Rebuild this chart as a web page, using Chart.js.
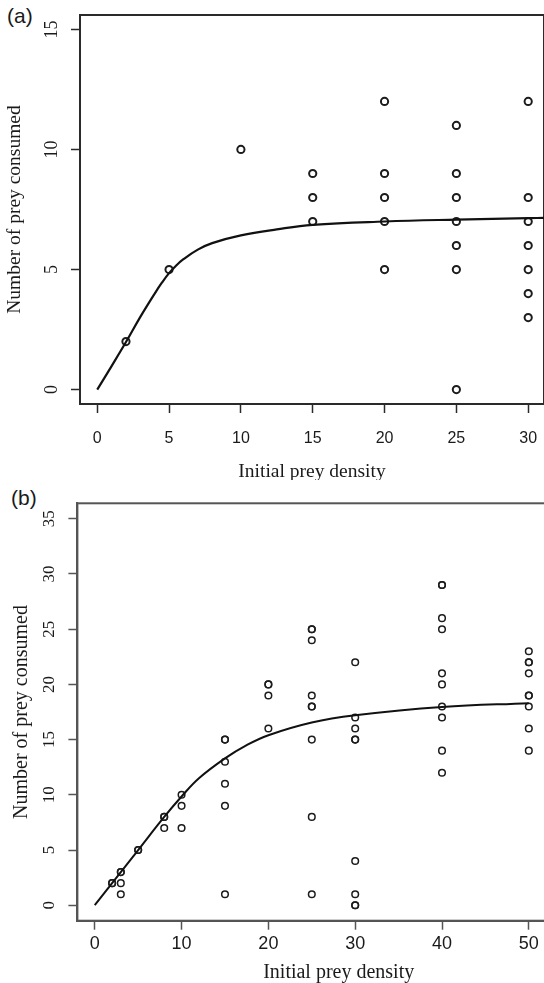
<!DOCTYPE html>
<html><head><meta charset="utf-8">
<script src="https://cdn.jsdelivr.net/npm/chart.js@4/dist/chart.umd.min.js"></script>
<style>
html,body{margin:0;padding:0;background:#fff;overflow:hidden;width:544px;height:983px;position:relative;}
canvas{position:absolute;left:0;}
#ca{top:0;}
#cb{top:480px;}
.lbl{position:absolute;font-family:"Liberation Sans",Arial,sans-serif;font-size:21px;line-height:20px;color:#1a1a1a;}
</style></head><body>
<div class="lbl" style="left:7px;top:6px">(a)</div>
<div class="lbl" style="left:11px;top:488px">(b)</div>
<canvas id="ca" width="544" height="480"></canvas>
<canvas id="cb" width="600" height="503"></canvas>
<script>
// ---------- Panel (a) ----------
const densityA  = [2, 5, 10, 15, 15, 15, 20, 20, 20, 20, 20, 25, 25, 25, 25, 25, 25, 25, 30, 30, 30, 30, 30, 30, 30];
const consumedA = [2, 5, 10,  9,  8,  7, 12,  9,  8,  7,  5, 11,  9,  8,  7,  6,  5,  0, 12,  8,  7,  6,  5,  4,  3];
const fitXA = [0, 1, 2, 3, 4, 4.5, 5, 5.5, 6, 7, 8, 10, 12.5, 15, 20, 25, 30, 31.2];
const fitYA = [0, 0.98, 1.98, 3.03, 4.0, 4.45, 4.85, 5.17, 5.43, 5.83, 6.1, 6.42, 6.67, 6.86, 7.0, 7.08, 7.14, 7.15];
const xTicksA = [0, 5, 10, 15, 20, 25, 30];
const yTicksA = [0, 5, 10, 15];

// ---------- Panel (b) ----------
const densityB  = [2, 2, 3, 3, 3, 3, 5, 5, 8, 8, 8, 10, 10, 10,
  15, 15, 15, 15, 15, 15, 20, 20, 20, 20,
  25, 25, 25, 25, 25, 25, 25, 25, 25,
  30, 30, 30, 30, 30, 30, 30, 30, 30,
  40, 40, 40, 40, 40, 40, 40, 40, 40, 40,
  50, 50, 50, 50, 50, 50, 50, 50, 50];
const consumedB = [2, 2, 3, 3, 2, 1, 5, 5, 8, 8, 7, 10, 9, 7,
  15, 15, 13, 11, 9, 1, 20, 20, 19, 16,
  25, 25, 24, 19, 18, 18, 15, 8, 1,
  22, 17, 16, 15, 15, 4, 1, 0, 0,
  29, 29, 26, 25, 21, 20, 18, 17, 14, 12,
  23, 22, 22, 21, 19, 19, 18, 16, 14];
const fitXB = [0, 2, 5, 8, 10, 12, 15, 17.5, 20, 25, 30, 40, 50];
const fitYB = [0, 2, 5, 8, 9.85, 11.5, 13.3, 14.5, 15.4, 16.55, 17.2, 17.95, 18.3];
const xTicksB = [0, 10, 20, 30, 40, 50];
const yTicksB = [0, 5, 10, 15, 20, 25, 30, 35];

const xTitle = 'Initial prey density';
const yTitle = 'Number of prey consumed';

const boxPlugin = {
  id: 'box',
  beforeDatasetsDraw(chart, args, opts) {
    const {ctx, chartArea: a} = chart;
    ctx.save();
    ctx.strokeStyle = opts.color;
    ctx.lineWidth = opts.width;
    ctx.strokeRect(a.left, a.top, a.right - a.left, a.bottom - a.top);
    ctx.restore();
  }
};

function pts(xs, ys) { return xs.map((x, i) => ({x: x, y: ys[i]})); }

function build(id, p) {
  return new Chart(document.getElementById(id), {
    type: 'scatter',
    data: {
      datasets: [
        {
          data: pts(p.px, p.py),
          pointStyle: 'circle',
          pointRadius: p.r,
          pointBorderWidth: p.bw,
          pointBorderColor: '#1c1c1c',
          pointBackgroundColor: 'rgba(0,0,0,0)',
          showLine: false,
          order: 2
        },
        {
          data: pts(p.fx, p.fy),
          showLine: true,
          pointRadius: 0,
          borderColor: '#111',
          borderWidth: p.lw,
          tension: 0.4,
          fill: false,
          order: 1
        }
      ]
    },
    options: {
      responsive: false,
      animation: false,
      events: [],
      layout: {padding: {left: 0, right: 0, top: p.top, bottom: 0}, autoPadding: false},
      plugins: {legend: {display: false}, tooltip: {enabled: false}, box: {color: p.boxColor, width: 2}},
      scales: {
        x: {
          type: 'linear', position: 'bottom',
          min: p.xmin, max: p.xmax,
          afterBuildTicks: s => { s.ticks = p.xt.map(v => ({value: v})); },
          afterFit: s => { s.height = p.xh; },
          grid: {display: true, drawOnChartArea: false, drawTicks: true, tickLength: 9, tickWidth: 1.5, tickColor: p.boxColor},
          border: {display: true, color: p.boxColor, width: 2},
          ticks: {color: '#1a1a1a', autoSkip: false, maxRotation: 0, padding: 0,
                  font: {family: 'Liberation Sans', size: p.xfs, lineHeight: p.xlh}},
          title: {display: true, text: xTitle, color: '#1a1a1a',
                  font: {family: 'Liberation Serif', size: p.tfs, lineHeight: 1},
                  padding: {top: 0, bottom: p.xtpad}}
        },
        y: {
          type: 'linear', position: 'left',
          min: p.ymin, max: p.ymax,
          afterBuildTicks: s => { s.ticks = p.yt.map(v => ({value: v})); },
          afterFit: s => { s.width = p.yw; },
          grid: {display: true, drawOnChartArea: false, drawTicks: true, tickLength: 9, tickWidth: 1.5, tickColor: p.boxColor},
          border: {display: true, color: p.boxColor, width: 2},
          ticks: {color: '#1a1a1a', autoSkip: false, minRotation: 90, maxRotation: 90, crossAlign: 'center',
                  padding: p.ypad, font: {family: 'Liberation Serif', size: p.yfs, lineHeight: 0.4}},
          title: {display: true, text: yTitle, color: '#1a1a1a',
                  font: {family: 'Liberation Serif', size: p.tfs, lineHeight: 1},
                  padding: {top: p.ytpad, bottom: 0}}
        }
      }
    },
    plugins: [boxPlugin]
  });
}

build('ca', {
  px: densityA, py: consumedA, fx: fitXA, fy: fitYA, xt: xTicksA, yt: yTicksA,
  xmin: -1.2, xmax: 31.1, ymin: -0.6, ymax: 15.6,
  top: 15, xh: 76, yw: 80, r: 3.6, bw: 2, lw: 2.2, boxColor: '#2a2a2a',
  xfs: 16, xlh: 3.25, yfs: 18, tfs: 19.5, ypad: 10, xtpad: -2, ytpad: 5.3
});
build('cb', {
  px: densityB, py: consumedB, fx: fitXB, fy: fitYB, xt: xTicksB, yt: yTicksB,
  xmin: -2, xmax: 58.2, ymin: -1.4, ymax: 36.4,
  top: 23.3, xh: 62.3, yw: 77.4, r: 3.3, bw: 1.5, lw: 2, boxColor: '#555',
  xfs: 18, xlh: 1.6, yfs: 17, tfs: 20, ypad: 10, xtpad: 0.5, ytpad: 12
});
</script>
</body></html>
